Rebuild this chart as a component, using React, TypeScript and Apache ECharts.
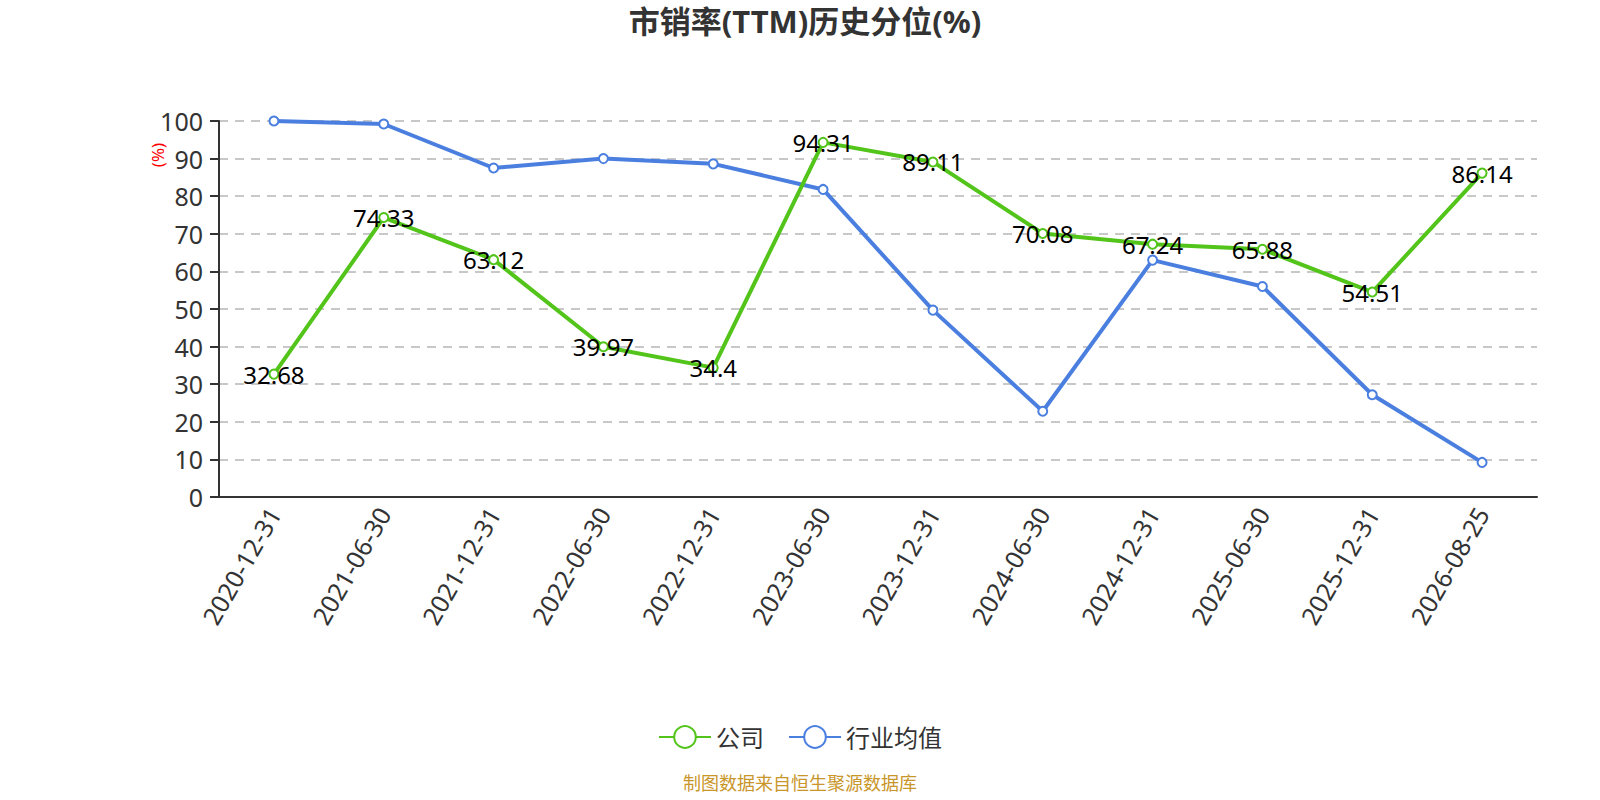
import React, { useEffect, useRef } from "react";
import * as echarts from "echarts";

const categories = ["2020-12-31","2021-06-30","2021-12-31","2022-06-30","2022-12-31","2023-06-30","2023-12-31","2024-06-30","2024-12-31","2025-06-30","2025-12-31","2026-08-25"];
const companyValues = [32.68, 74.33, 63.12, 39.97, 34.4, 94.31, 89.11, 70.08, 67.24, 65.88, 54.51, 86.14];
const industryValues = [100, 99.2, 87.5, 90.0, 88.6, 81.8, 49.7, 22.8, 63.0, 56.0, 27.2, 9.2];
const yTicks = [0, 10, 20, 30, 40, 50, 60, 70, 80, 90, 100];

export default function App() {
  const ref = useRef<HTMLDivElement>(null);
  useEffect(() => {
    document.body.style.margin = "0";
    const chart = echarts.init(ref.current!, null, { renderer: "svg" });
    const font = "'Microsoft YaHei','Noto Sans','Noto Sans CJK SC',sans-serif";
    chart.setOption({
      animation: false,
      textStyle: { fontFamily: font },
      title: [
        {
          text: "市销率(TTM)历史分位(%)",
          left: 800,
          textAlign: "center",
          top: 0,
          textStyle: { fontSize: 31, fontWeight: "bold", color: "#333", fontFamily: font },
        },
        {
          text: "制图数据来自恒生聚源数据库",
          left: 800,
          textAlign: "center",
          top: 772,
          padding: 0,
          textStyle: { fontSize: 18, fontWeight: "normal", color: "#c9962a", fontFamily: font, lineHeight: 22 },
        },
      ],
      legend: {
        left: "center",
        top: 720,
        itemWidth: 52,
        itemHeight: 27,
        itemGap: 24,
        textStyle: { fontSize: 24, color: "#333" },
        data: ["公司", "行业均值"],
      },
      graphic: [
        {
          type: "text",
          x: 157,
          y: 155,
          rotation: Math.PI / 2,
          style: {
            text: "(%)",
            fill: "red",
            fontSize: 17,
            fontFamily: font,
            align: "center",
            verticalAlign: "middle",
          },
        },
      ],
      grid: { left: 219, right: 63, top: 121, bottom: 303, containLabel: false },
      xAxis: {
        type: "category",
        data: categories,
        boundaryGap: true,
        axisLine: { lineStyle: { color: "#333", width: 2 } },
        axisTick: { lineStyle: { color: "#333", width: 2 }, length: 9 },
        axisLabel: { rotate: 60, fontSize: 25, color: "#333", margin: 12, interval: 0 },
      },
      yAxis: {
        type: "value",
        min: 0,
        max: 100,
        interval: 10,
        axisLine: { show: true, lineStyle: { color: "#333", width: 2 } },
        axisTick: { show: true, lineStyle: { color: "#333", width: 2 }, length: 9 },
        axisLabel: { fontSize: 25, color: "#333", margin: 16, formatter: (v: number) => (yTicks.includes(v) ? String(v) : "") },
        splitLine: { lineStyle: { type: [9, 7], color: "#c8c8c8", width: 2 } },
      },
      series: [
        {
          name: "公司",
          type: "line",
          data: companyValues,
          symbol: "emptyCircle",
          symbolSize: 9,
          color: "#52c41a",
          lineStyle: { width: 4, color: "#52c41a" },
          itemStyle: { color: "#52c41a", borderWidth: 2 },
          label: { show: true, position: "inside", fontSize: 24, color: "#000" },
          z: 3,
        },
        {
          name: "行业均值",
          type: "line",
          data: industryValues,
          symbol: "emptyCircle",
          symbolSize: 9,
          color: "#4a7fe0",
          lineStyle: { width: 4, color: "#4a7fe0" },
          itemStyle: { color: "#4a7fe0", borderWidth: 2 },
          label: { show: false },
          z: 2,
        },
      ],
    });
    return () => chart.dispose();
  }, []);
  return <div ref={ref} style={{ width: 1600, height: 800 }} />;
}
